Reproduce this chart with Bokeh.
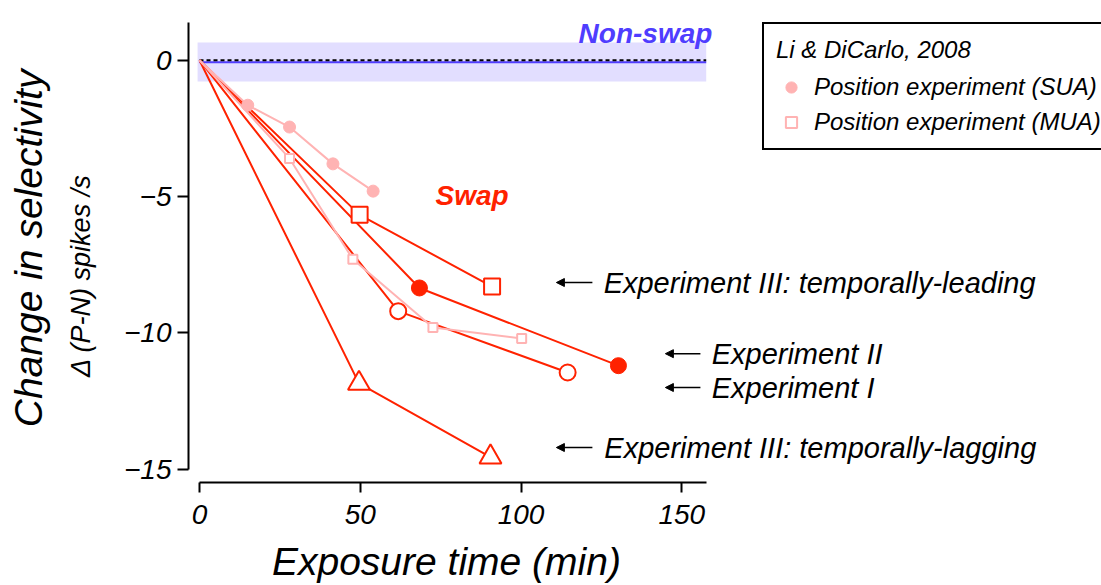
import math
from bokeh.plotting import figure
from bokeh.models import (Range1d, FixedTicker, Label, Arrow, NormalHead, Legend,
                          LegendItem)
from bokeh.embed import file_html
from bokeh.resources import INLINE

# ---------------- data ----------------
sua_t = [0, 15, 28, 41.5, 54]
sua_v = [0, -1.65, -2.45, -3.8, -4.8]
mua_t = [0, 28, 47.7, 72.6, 100.2]
mua_v = [0, -3.6, -7.3, -9.8, -10.2]
exp1_t = [0, 61.8, 114.5]
exp1_v = [0, -9.2, -11.45]
exp2_t = [0, 68.4, 130.3]
exp2_v = [0, -8.35, -11.2]
exp3lead_t = [0, 49.8, 91.0]
exp3lead_v = [0, -5.67, -8.3]
exp3lag_t = [0, 49.6, 90.5]
exp3lag_v = [0, -11.85, -14.55]
nonswap_mean = -0.07
nonswap_low = -0.78
nonswap_high = 0.65
nonswap_t = [0, 157.6]

x_ticks = [0, 50, 100, 150]
y_ticks = [-15, -10, -5, 0]
y_tick_labels = {-15: "\u221215", -10: "\u221210", -5: "\u22125", 0: "0"}

labels_right = ["Experiment III: temporally-leading", "Experiment II",
                "Experiment I", "Experiment III: temporally-lagging"]
legend_title = "Li & DiCarlo, 2008"
legend_labels = ["Position experiment (SUA)", "Position experiment (MUA)"]

# ---------------- styling ----------------
FONT = "Liberation Sans"
RED = "#ff2200"
PINK = "#ffb3b3"
BLUE = "#4f3dff"
BAND = "#e2deff"

X_AXIS_AT = -15.486   # data y where the x axis line sits
Y_AXIS_AT = -3.42     # data x where the y axis line sits

p = figure(width=1101, height=585, output_backend="svg", toolbar_location=None,
           x_range=Range1d(-61.9, 280.55), y_range=Range1d(-19.26, 2.19),
           min_border_left=0, min_border_right=0, min_border_top=0,
           min_border_bottom=0)
p.outline_line_color = None
p.xgrid.visible = False
p.ygrid.visible = False
p.background_fill_color = "white"
p.border_fill_color = "white"

for ax in (p.xaxis[0], p.yaxis[0]):
    ax.axis_line_width = 2
    ax.axis_line_color = "black"
    ax.major_tick_line_width = 2
    ax.major_tick_line_color = "black"
    ax.major_tick_in = 0
    ax.minor_tick_line_color = None
    ax.major_label_text_font = FONT
    ax.major_label_text_font_style = "italic"
    ax.major_label_text_color = "black"

p.xaxis.ticker = FixedTicker(ticks=x_ticks)
p.xaxis.bounds = (0, nonswap_t[1])
p.xaxis.fixed_location = X_AXIS_AT
p.xaxis.major_tick_out = 10
p.xaxis.major_label_text_font_size = "28px"
p.xaxis.major_label_standoff = 12

p.yaxis.ticker = FixedTicker(ticks=y_ticks)
p.yaxis.major_label_overrides = y_tick_labels
p.yaxis.bounds = (-15, 1.38)
p.yaxis.fixed_location = Y_AXIS_AT
p.yaxis.major_tick_out = 11
p.yaxis.major_label_text_font_size = "28px"
p.yaxis.major_label_standoff = 6

# ---------------- non-swap band ----------------
p.quad(left=-0.6, right=nonswap_t[1], bottom=nonswap_low, top=nonswap_high,
       fill_color=BAND, line_color=None)
p.line(nonswap_t, [nonswap_mean] * 2, line_color=BLUE, line_width=2)
p.line(nonswap_t, [0, 0], line_color="black", line_width=2, line_dash="4 3")

# ---------------- swap experiments ----------------
LW = 2
p.line(exp3lag_t, exp3lag_v, line_color=RED, line_width=LW)
p.scatter(exp3lag_t[1:], exp3lag_v[1:], marker="triangle", size=22,
          fill_color="white", line_color=RED, line_width=2)

p.line(exp1_t, exp1_v, line_color=RED, line_width=LW)
p.scatter(exp1_t[1:], exp1_v[1:], marker="circle", size=16,
          fill_color="white", line_color=RED, line_width=2)

p.line(exp2_t, exp2_v, line_color=RED, line_width=LW)
p.scatter(exp2_t[1:], exp2_v[1:], marker="circle", size=16,
          fill_color=RED, line_color=RED, line_width=1)

p.line(exp3lead_t, exp3lead_v, line_color=RED, line_width=LW)
p.scatter(exp3lead_t[1:], exp3lead_v[1:], marker="square", size=16,
          fill_color="white", line_color=RED, line_width=2)

# Li & DiCarlo position experiments
p.line(mua_t, mua_v, line_color=PINK, line_width=LW)
mua_sc = p.scatter(mua_t[1:], mua_v[1:], marker="square", size=9,
                   fill_color="white", line_color=PINK, line_width=2)
p.line(sua_t, sua_v, line_color=PINK, line_width=LW)
sua_sc = p.scatter(sua_t[1:], sua_v[1:], marker="circle", size=12,
                   fill_color=PINK, line_color=PINK)

# ---------------- texts ----------------
p.add_layout(Label(x=117.9, y=0.98, text="Non-swap", text_font=FONT,
                   text_font_style="bold italic", text_font_size="28px",
                   text_color=BLUE, text_baseline="alphabetic"))
p.add_layout(Label(x=73.4, y=-4.96, text="Swap", text_font=FONT,
                   text_font_style="bold italic", text_font_size="28px",
                   text_color=RED, text_baseline="alphabetic"))

arrow_rows = [(-8.15, 122.2, 111.0, 125.7),
              (-10.76, 155.8, 144.9, 159.3),
              (-12.0, 155.8, 144.9, 159.3),
              (-14.2, 122.2, 111.0, 125.9)]
for txt, (yv, xs, xe, xt) in zip(labels_right, arrow_rows):
    p.add_layout(Arrow(end=NormalHead(size=8, fill_color="black", line_color="black",
                                      line_width=1),
                       x_start=xs, y_start=yv, x_end=xe, y_end=yv,
                       line_color="black", line_width=1.5))
    p.add_layout(Label(x=xt, y=yv, text=txt, text_font=FONT,
                       text_font_style="italic", text_font_size="29px",
                       text_color="black", text_baseline="middle"))

# axis titles
p.add_layout(Label(x=76.8, y=-18.38, text="Exposure time (min)", text_font=FONT,
                   text_font_style="italic", text_font_size="39px",
                   text_color="black", text_align="center",
                   text_baseline="middle"))
p.add_layout(Label(x=-53.2, y=-6.9, text="Change in selectivity", text_font=FONT,
                   text_font_style="italic", text_font_size="39px",
                   text_color="black", text_align="center", text_baseline="middle",
                   angle=math.pi / 2))
p.add_layout(Label(x=-37.0, y=-7.9, text="\u0394 (P-N) spikes /s", text_font=FONT,
                   text_font_style="italic", text_font_size="27px",
                   text_color="black", text_align="center", text_baseline="middle",
                   angle=math.pi / 2))

# ---------------- legend ----------------
legend = Legend(items=[LegendItem(label=legend_labels[0], renderers=[sua_sc]),
                       LegendItem(label=legend_labels[1], renderers=[mua_sc])],
                location=(762, 435), title=legend_title,
                title_text_font=FONT, title_text_font_style="italic",
                title_text_font_size="24px", title_text_color="black",
                title_standoff=9,
                label_text_font=FONT, label_text_font_style="italic",
                label_text_font_size="24px", label_text_color="black",
                border_line_color="black", border_line_width=2,
                border_line_alpha=1.0,
                background_fill_color="white", background_fill_alpha=1,
                padding=12, spacing=7, margin=0,
                glyph_width=30, glyph_height=28, label_height=28,
                label_standoff=8)
p.add_layout(legend)

open("out.html", "w").write(file_html(p, INLINE))
